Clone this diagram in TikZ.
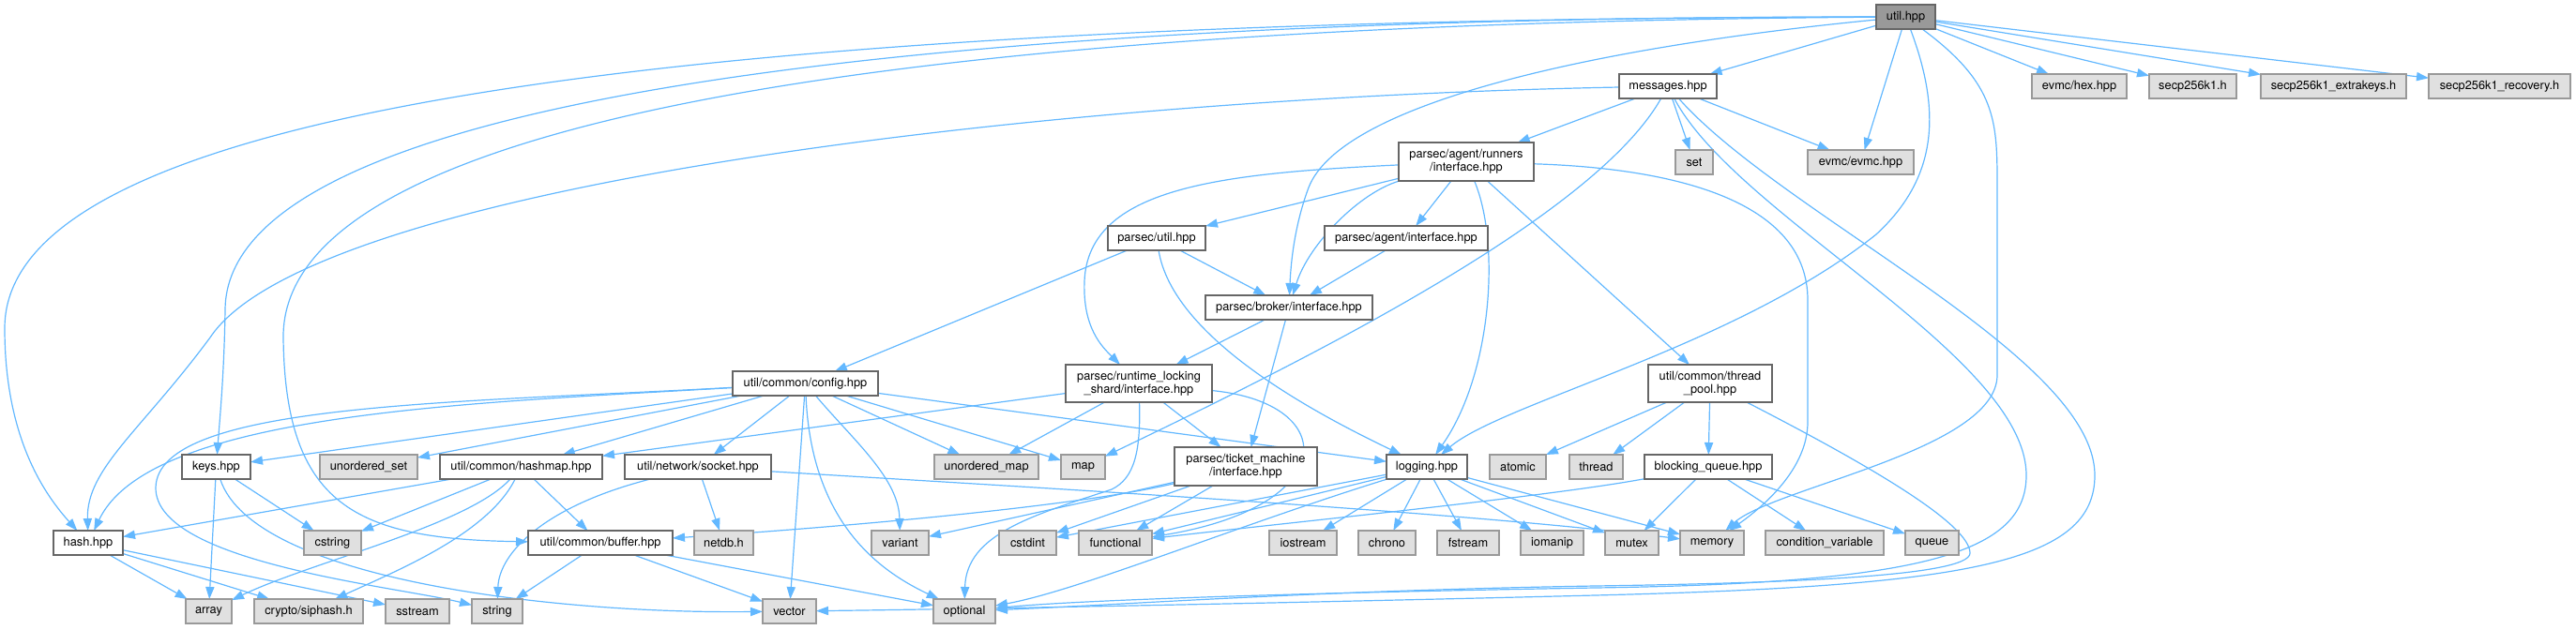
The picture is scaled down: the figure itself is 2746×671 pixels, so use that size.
\documentclass[tikz,border=0pt]{standalone}
\usepackage{fontspec}
\setmainfont{TeX Gyre Heros}
\usetikzlibrary{arrows.meta}
\pgfdeclarelayer{bg}
\pgfsetlayers{bg,main}
\definecolor{eb}{HTML}{63B8FF}
\definecolor{gfill}{HTML}{E0E0E0}
\definecolor{gdraw}{HTML}{999999}
\definecolor{wdraw}{HTML}{666666}
\definecolor{rfill}{HTML}{999999}
\newcommand\bx[7]{%
  \pgfmathsetmacro\bxw{(#4-#2)*0.5}%
  \pgfmathsetmacro\bxh{(#5-#3)*0.5}%
  \node[#7,minimum width=\bxw pt,minimum height=\bxh pt] (#1) at ({(#2+#4)/2},{(#3+#5)/2}) {#6};}
\begin{document}
\begin{tikzpicture}[x=0.5pt,y=-0.5pt,
  base/.style={rectangle,inner sep=0pt,outer sep=0pt,line width=0.6pt,align=center,
    font=\fontsize{6.4pt}{7.2pt}\selectfont},
  wbox/.style={base,draw=wdraw,fill=white},
  gbox/.style={base,draw=gdraw,fill=gfill},
  rbox/.style={base,draw=wdraw,fill=rfill},
  e/.style={draw=eb,line width=0.6pt,-{Triangle[length=6.5pt,width=4.6pt]}}]
\useasboundingbox (0,0) rectangle (2746,671);
% row 0
\bx{util}{2000}{5}{2063}{31}{util.hpp}{rbox}
% row 1
\bx{messages}{1726}{79}{1830}{105}{messages.hpp}{wbox}
\bx{evmchex}{2166}{79}{2267}{105}{evmc/hex.hpp}{gbox}
\bx{secp}{2291}{79}{2384}{105}{secp256k1.h}{gbox}
\bx{secpx}{2410}{79}{2565}{105}{secp256k1\_extrakeys.h}{gbox}
\bx{secpr}{2589}{79}{2740}{105}{secp256k1\_recovery.h}{gbox}
% row 2
\bx{runners}{1491}{152}{1635}{193}{parsec/agent/runners\\/interface.hpp}{wbox}
\bx{set}{1786}{160}{1826}{186}{set}{gbox}
\bx{evmc}{1927}{160}{2040}{186}{evmc/evmc.hpp}{gbox}
% row 3
\bx{putil}{1181}{241}{1285}{267}{parsec/util.hpp}{wbox}
\bx{agent}{1412}{241}{1586}{267}{parsec/agent/interface.hpp}{wbox}
% row 4
\bx{broker}{1285}{315}{1463}{341}{parsec/broker/interface.hpp}{wbox}
% row 5
\bx{config}{781}{396}{936}{422}{util/common/config.hpp}{wbox}
\bx{runtime}{1136}{389}{1292}{429}{parsec/runtime\_locking\\\_shard/interface.hpp}{wbox}
\bx{tpool}{1757}{389}{1889}{429}{util/common/thread\\\_pool.hpp}{wbox}
% row 6
\bx{keys}{194}{485}{267}{511}{keys.hpp}{wbox}
\bx{uset}{341}{485}{445}{511}{unordered\_set}{gbox}
\bx{hashmap}{469}{485}{642}{511}{util/common/hashmap.hpp}{wbox}
\bx{socket}{666}{485}{822}{511}{util/network/socket.hpp}{wbox}
\bx{umap}{996}{485}{1107}{511}{unordered\_map}{gbox}
\bx{map}{1131}{485}{1178}{511}{map}{gbox}
\bx{ticket}{1252}{477}{1404}{518}{parsec/ticket\_machine\\/interface.hpp}{wbox}
\bx{logging}{1478}{485}{1564}{511}{logging.hpp}{wbox}
\bx{atomic}{1588}{485}{1648}{511}{atomic}{gbox}
\bx{thread}{1673}{485}{1730}{511}{thread}{gbox}
\bx{bqueue}{1753}{485}{1889}{511}{blocking\_queue.hpp}{wbox}
% row 7
\bx{hash}{57}{566}{131}{592}{hash.hpp}{wbox}
\bx{cstring}{324}{566}{385}{592}{cstring}{gbox}
\bx{buffer}{563}{566}{717}{592}{util/common/buffer.hpp}{wbox}
\bx{netdb}{740}{566}{803}{592}{netdb.h}{gbox}
\bx{variant}{929}{566}{990}{592}{variant}{gbox}
\bx{cstdint}{1065}{566}{1126}{592}{cstdint}{gbox}
\bx{functional}{1150}{566}{1228}{592}{functional}{gbox}
\bx{iostream}{1353}{566}{1425}{592}{iostream}{gbox}
\bx{chrono}{1448}{566}{1509}{592}{chrono}{gbox}
\bx{fstream}{1532}{566}{1598}{592}{fstream}{gbox}
\bx{iomanip}{1621}{566}{1688}{592}{iomanip}{gbox}
\bx{mutex}{1711}{566}{1768}{592}{mutex}{gbox}
\bx{memory}{1791}{566}{1859}{592}{memory}{gbox}
\bx{condvar}{1882}{566}{2008}{592}{condition\_variable}{gbox}
\bx{queue}{2031}{566}{2088}{592}{queue}{gbox}
% row 8
\bx{array}{198}{639}{247}{665}{array}{gbox}
\bx{siphash}{271}{639}{387}{665}{crypto/siphash.h}{gbox}
\bx{sstream}{411}{639}{479}{665}{sstream}{gbox}
\bx{string}{503}{639}{557}{665}{string}{gbox}
\bx{vector}{813}{639}{870}{665}{vector}{gbox}
\bx{optional}{995}{639}{1061}{665}{optional}{gbox}
\begin{pgfonlayer}{bg}
% ---- edges: util
\draw[e] (util) -- (messages);
\draw[e] (util) -- (evmchex);
\draw[e] (util) -- (secp);
\draw[e] (util) -- (secpx);
\draw[e] (util) -- (secpr);
\draw[e] (util) -- (evmc);
\draw[e] (util) .. controls (2129,90) and (2129,130) .. (2129,200) -- (2129,400) .. controls (2129,480) and (1890,520) .. (memory);
\draw[e] (util) .. controls (2070,120) and (2065,190) .. (2000,250) .. controls (1850,370) and (1600,430) .. (logging);
\draw[e] (util) .. controls (1700,50) and (1430,110) .. (1395,200) .. controls (1380,240) and (1376,280) .. (broker);
\draw[e] (util) .. controls (1000,18) and (242,100) .. (240,330) .. controls (239,400) and (234,450) .. (keys);
\draw[e] (util) .. controls (700,20) and (5,120) .. (5,350) .. controls (5,470) and (50,530) .. (hash);
\draw[e] (util) .. controls (1000,25) and (300,120) .. (302,360) .. controls (304,540) and (380,575) .. (buffer);
% messages
\draw[e] (messages) -- (runners);
\draw[e] (messages) -- (set);
\draw[e] (messages) -- (evmc);
\draw[e] (messages) .. controls (1100,105) and (330,200) .. (224,360) .. controls (150,460) and (92,500) .. (hash);
\draw[e] (messages) .. controls (1700,230) and (1400,380) .. (map);
\draw[e] (messages) .. controls (1900,230) and (2233,380) .. (2233,507) .. controls (2233,600) and (2100,625) .. (1700,635) .. controls (1300,645) and (1000,650) .. (vector);
\draw[e] (messages) .. controls (1850,230) and (2160,380) .. (2160,507) .. controls (2160,590) and (2050,622) .. (1700,627) .. controls (1400,632) and (1150,640) .. (optional);
% runners
\draw[e] (runners) -- (agent);
\draw[e] (runners) .. controls (1450,205) and (1395,260) .. (broker);
\draw[e] (runners) .. controls (1300,185) and (1160,200) .. (1156,300) .. controls (1154,350) and (1175,370) .. (runtime);
\draw[e] (runners) -- (putil);
\draw[e] (runners) .. controls (1600,260) and (1590,400) .. (logging);
\draw[e] (runners) -- (tpool);
\draw[e] (runners) .. controls (1800,180) and (1927,220) .. (1927,320) -- (1927,450) .. controls (1927,500) and (1880,540) .. (memory);
% agent, putil, broker
\draw[e] (agent) -- (broker);
\draw[e] (putil) -- (broker);
\draw[e] (putil) -- (config);
\draw[e] (putil) .. controls (1250,360) and (1400,440) .. (logging);
\draw[e] (broker) -- (runtime);
\draw[e] (broker) -- (ticket);
% runtime
\draw[e] (runtime) -- (hashmap);
\draw[e] (runtime) -- (umap);
\draw[e] (runtime) -- (ticket);
\draw[e] (runtime) .. controls (1216,480) and (1210,510) .. (1185,522) .. controls (1100,550) and (1030,570) .. (optional);
\draw[e] (runtime) .. controls (1430,430) and (1430,540) .. (functional);
% ticket
\draw[e] (ticket) -- (variant);
\draw[e] (ticket) .. controls (1150,540) and (900,562) .. (buffer);
\draw[e] (ticket) -- (cstdint);
\draw[e] (ticket) -- (functional);
% config
\draw[e] (config) .. controls (500,430) and (160,440) .. (hash);
\draw[e] (config) -- (keys);
\draw[e] (config) -- (uset);
\draw[e] (config) -- (hashmap);
\draw[e] (config) -- (socket);
\draw[e] (config) -- (vector);
\draw[e] (config) .. controls (480,430) and (168,430) .. (166,520) .. controls (165,600) and (420,625) .. (string);
\draw[e] (config) .. controls (865,560) and (940,610) .. (optional);
\draw[e] (config) .. controls (910,470) and (958,510) .. (variant);
\draw[e] (config) -- (umap);
\draw[e] (config) -- (map);
\draw[e] (config) -- (logging);
% hashmap
\draw[e] (hashmap) -- (hash);
\draw[e] (hashmap) -- (cstring);
\draw[e] (hashmap) .. controls (500,560) and (330,600) .. (array);
\draw[e] (hashmap) .. controls (520,570) and (420,610) .. (siphash);
\draw[e] (hashmap) -- (buffer);
% keys
\draw[e] (keys) -- (array);
\draw[e] (keys) -- (cstring);
\draw[e] (keys) .. controls (270,620) and (600,655) .. (vector);
% hash
\draw[e] (hash) -- (array);
\draw[e] (hash) -- (siphash);
\draw[e] (hash) -- (sstream);
% buffer
\draw[e] (buffer) -- (string);
\draw[e] (buffer) -- (vector);
\draw[e] (buffer) -- (optional);
% socket
\draw[e] (socket) .. controls (580,540) and (532,590) .. (string);
\draw[e] (socket) -- (netdb);
\draw[e] (socket) .. controls (1100,520) and (1550,545) .. (memory);
% logging
\draw[e] (logging) -- (cstdint);
\draw[e] (logging) -- (functional);
\draw[e] (logging) -- (iostream);
\draw[e] (logging) -- (chrono);
\draw[e] (logging) -- (fstream);
\draw[e] (logging) -- (iomanip);
\draw[e] (logging) -- (mutex);
\draw[e] (logging) -- (memory);
\draw[e] (logging) .. controls (1320,560) and (1150,630) .. (optional);
% thread pool
\draw[e] (tpool) -- (atomic);
\draw[e] (tpool) -- (thread);
\draw[e] (tpool) -- (bqueue);
\draw[e] (tpool) .. controls (2000,500) and (2100,560) .. (2100,590) .. controls (2100,615) and (1900,622) .. (1700,625) .. controls (1400,630) and (1200,645) .. (optional);
% blocking queue
\draw[e] (bqueue) .. controls (1650,530) and (1350,560) .. (functional);
\draw[e] (bqueue) -- (mutex);
\draw[e] (bqueue) -- (condvar);
\draw[e] (bqueue) -- (queue);
\end{pgfonlayer}
\end{tikzpicture}
\end{document}
